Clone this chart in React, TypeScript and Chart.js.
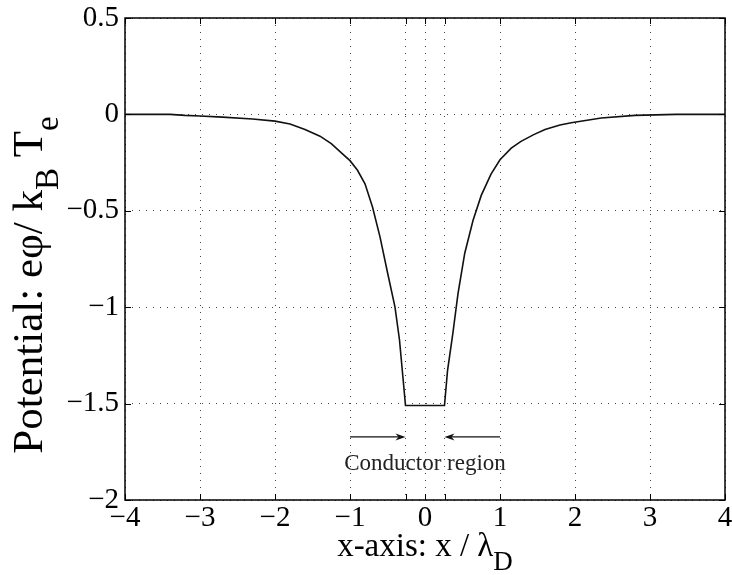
import React, { useEffect, useRef } from "react";
import { Chart, registerables } from "chart.js";

Chart.register(...registerables);

// ---- data ----
const xPositions = [
  -4, -3.4, -3.2, -3.0, -2.7, -2.3, -2.0, -1.8, -1.6, -1.4, -1.25, -1.1, -1.0, -0.9, -0.8, -0.7, -0.6, -0.5, -0.4,
  -0.34, -0.3, -0.26, 0.26, 0.3, 0.37, 0.44, 0.53, 0.64, 0.75, 0.88, 1.0, 1.15, 1.28, 1.45, 1.6, 1.8, 1.95, 2.35,
  2.8, 3.35, 4,
];
const potential = [
  0, 0, -0.005, -0.008, -0.014, -0.024, -0.035, -0.05, -0.078, -0.113, -0.152, -0.205, -0.24, -0.29, -0.36, -0.48,
  -0.635, -0.82, -1.0, -1.17, -1.34, -1.51, -1.51, -1.33, -1.14, -0.93, -0.72, -0.55, -0.42, -0.31, -0.235, -0.175,
  -0.14, -0.105, -0.078, -0.055, -0.043, -0.019, -0.005, 0, 0,
];
const xTickValues = [-4, -3, -2, -1, 0, 1, 2, 3, 4];
const conductorEdges = [-0.26, 0.26];
const yTickValues = [0.5, 0, -0.5, -1, -1.5, -2];
const arrowStarts = [-1, 1];
const arrowLevel = -1.673;
const annotationLevel = -1.845;
const annotationText = "Conductor region";

const SERIF = "'Liberation Serif', 'Times New Roman', serif";

function fmt(v: number): string {
  if (Math.abs(v) < 1e-9) return "0";
  return (v < 0 ? "\u2212" : "") + String(Math.abs(v));
}

const decorPlugin = {
  id: "decor",
  afterDraw(chart: any) {
    const { ctx, chartArea: a, scales } = chart;
    const xs = scales.x;
    const ys = scales.y;
    ctx.save();
    // frame
    ctx.strokeStyle = "#000";
    ctx.lineWidth = 1.5;
    ctx.strokeRect(a.left, a.top, a.right - a.left, a.bottom - a.top);
    // inward tick marks
    ctx.lineWidth = 1;
    const tl = 6;
    const xt = [...xTickValues, ...conductorEdges];
    for (const v of xt) {
      const px = Math.round(xs.getPixelForValue(v)) + 0.5;
      ctx.beginPath();
      ctx.moveTo(px, a.bottom);
      ctx.lineTo(px, a.bottom - tl);
      ctx.moveTo(px, a.top);
      ctx.lineTo(px, a.top + tl);
      ctx.stroke();
    }
    for (const v of yTickValues) {
      const py = Math.round(ys.getPixelForValue(v)) + 0.5;
      ctx.beginPath();
      ctx.moveTo(a.left, py);
      ctx.lineTo(a.left + tl, py);
      ctx.moveTo(a.right, py);
      ctx.lineTo(a.right - tl, py);
      ctx.stroke();
    }
    // arrows
    const ay = ys.getPixelForValue(arrowLevel);
    ctx.lineWidth = 1.3;
    ctx.strokeStyle = "#111";
    ctx.fillStyle = "#111";
    arrowStarts.forEach((s, i) => {
      const x0 = xs.getPixelForValue(s);
      const x1 = xs.getPixelForValue(conductorEdges[i]);
      const dir = Math.sign(x1 - x0);
      ctx.beginPath();
      ctx.moveTo(x0, ay);
      ctx.lineTo(x1 - dir * 6, ay);
      ctx.stroke();
      ctx.beginPath();
      ctx.moveTo(x1, ay);
      ctx.lineTo(x1 - dir * 10, ay - 3.5);
      ctx.lineTo(x1 - dir * 7, ay);
      ctx.lineTo(x1 - dir * 10, ay + 3.5);
      ctx.closePath();
      ctx.fill();
    });
    // annotation text
    ctx.fillStyle = "#222";
    ctx.font = `23px ${SERIF}`;
    ctx.textAlign = "center";
    ctx.textBaseline = "alphabetic";
    ctx.fillText(annotationText, xs.getPixelForValue(0), ys.getPixelForValue(annotationLevel));

    // x title with subscript
    ctx.fillStyle = "#000";
    const tf = 33;
    const sf = 27;
    const main = "x-axis: x / \u03bb";
    ctx.font = `${tf}px ${SERIF}`;
    const wMain = ctx.measureText(main).width;
    ctx.font = `${sf}px ${SERIF}`;
    const wSub = ctx.measureText("D").width;
    const total = wMain + wSub;
    const cx = (a.left + a.right) / 2;
    const bx = cx - total / 2;
    const by = 556;
    ctx.textAlign = "left";
    ctx.font = `${tf}px ${SERIF}`;
    ctx.fillText(main, bx, by);
    ctx.font = `${sf}px ${SERIF}`;
    ctx.fillText("D", bx + wMain, by + 14);

    // y title rotated with subscripts
    const yf = 43;
    const ysf = 33;
    const parts: [string, boolean][] = [
      ["Potential: e\u03c6/ k", false],
      ["B", true],
      [" T", false],
      ["e", true],
    ];
    let len = 0;
    const widths: number[] = [];
    for (const [t, sub] of parts) {
      ctx.font = `${sub ? ysf : yf}px ${SERIF}`;
      const w = ctx.measureText(t).width;
      widths.push(w);
      len += w;
    }
    ctx.translate(42, 285);
    ctx.rotate(-Math.PI / 2);
    let px = -len / 2;
    parts.forEach(([t, sub], i) => {
      ctx.font = `${sub ? ysf : yf}px ${SERIF}`;
      ctx.fillText(t, px, sub ? 16 : 0);
      px += widths[i];
    });
    ctx.restore();
  },
};

export default function App() {
  const ref = useRef<HTMLCanvasElement>(null);
  useEffect(() => {
    if (!ref.current) return;
    const chart = new Chart(ref.current, {
      type: "line",
      data: {
        datasets: [
          {
            data: xPositions.map((x, i) => ({ x, y: potential[i] })),
            borderColor: "#111",
            borderWidth: 1.6,
            pointRadius: 0,
            tension: 0,
            fill: false,
          },
        ],
      },
      plugins: [decorPlugin],
      options: {
        animation: false,
        responsive: false,
        devicePixelRatio: 1,
        layout: { padding: { left: 0, right: 7, top: 18, bottom: 0 } },
        plugins: { legend: { display: false }, tooltip: { enabled: false } },
        scales: {
          x: {
            type: "linear",
            min: -4,
            max: 4,
            afterBuildTicks: (s: any) => {
              s.ticks = [...xTickValues, ...conductorEdges].sort((p, q) => p - q).map((v) => ({ value: v }));
            },
            afterFit: (s: any) => {
              s.height = 75;
              s.paddingLeft = 0;
              s.paddingRight = 0;
            },
            ticks: {
              autoSkip: false,
              maxRotation: 0,
              padding: 1,
              color: "#000",
              font: { family: SERIF, size: 29 },
              callback: (v: any) => (Number.isInteger(Number(v)) ? fmt(Number(v)) : ""),
            },
            grid: { color: "#444", lineWidth: 1, drawTicks: false },
            border: { display: false, dash: [1, 6] },
          },
          y: {
            type: "linear",
            min: -2,
            max: 0.5,
            afterBuildTicks: (s: any) => {
              s.ticks = yTickValues.slice().sort((p, q) => p - q).map((v) => ({ value: v }));
            },
            afterFit: (s: any) => {
              s.width = 125;
              s.paddingTop = 0;
              s.paddingBottom = 0;
            },
            ticks: {
              padding: 6,
              color: "#000",
              font: { family: SERIF, size: 29 },
              callback: (v: any) => fmt(Number(v)),
            },
            grid: { color: "#444", lineWidth: 1, drawTicks: false },
            border: { display: false, dash: [1, 6] },
          },
        },
      },
    });
    return () => chart.destroy();
  }, []);
  return (
    <div style={{ position: "fixed", left: 0, top: 0, width: 732, height: 575, background: "#fff" }}>
      <canvas ref={ref} width={732} height={575} style={{ display: "block" }} />
    </div>
  );
}
